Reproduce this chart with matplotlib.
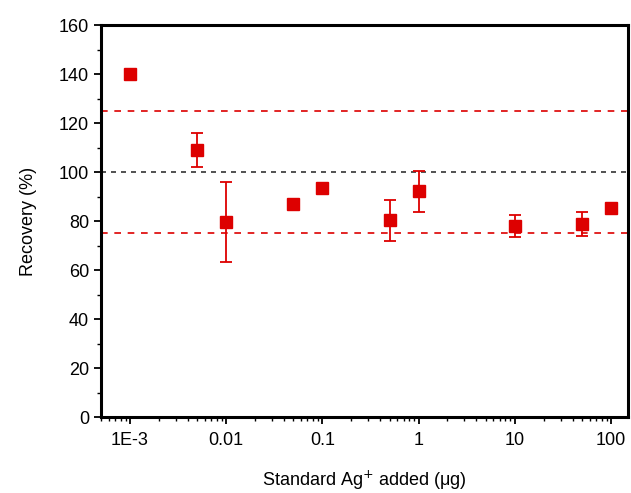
import matplotlib
matplotlib.use("Agg")
import matplotlib.pyplot as plt
from matplotlib.ticker import FixedLocator, LogLocator, NullFormatter, MultipleLocator

plt.rcParams['font.family'] = ['Liberation Sans', 'DejaVu Sans']

# data
added = [0.001, 0.005, 0.01, 0.05, 0.1, 0.5, 1, 10, 50, 100]
recovery = [140, 109.1, 79.6, 87.1, 93.6, 80.3, 92.1, 78.0, 78.9, 85.5]
err = [0, 7.0, 16.2, 1.5, 0, 8.5, 8.5, 4.4, 4.9, 0]
xticks = [0.001, 0.01, 0.1, 1, 10, 100]
xticklabels = ["1E-3", "0.01", "0.1", "1", "10", "100"]
lower, target, upper = 75, 100, 125

red = "#dd0000"

fig = plt.figure(figsize=(6.31, 4.93), dpi=100)
ax = fig.add_axes([0.160, 0.154, 0.835, 0.795])

ax.axhline(upper, color=red, ls=(0, (4, 4)), lw=1.2)
ax.axhline(lower, color=red, ls=(0, (4, 4)), lw=1.2)
ax.axhline(target, color="#333333", ls=(0, (3, 3)), lw=1.2)

ax.errorbar(added, recovery, yerr=err, fmt="s", color=red, ms=9, ecolor=red,
            elinewidth=1.3, capsize=4, capthick=1.3, zorder=3)

ax.set_xscale("log")
ax.set_xlim(5e-4, 150)
ax.set_ylim(0, 160)
ax.xaxis.set_major_locator(FixedLocator(xticks))
ax.set_xticklabels(xticklabels)
ax.xaxis.set_minor_locator(LogLocator(base=10, subs=range(2, 10), numticks=20))
ax.xaxis.set_minor_formatter(NullFormatter())
ax.yaxis.set_major_locator(MultipleLocator(20))
ax.yaxis.set_minor_locator(MultipleLocator(10))

for s in ax.spines.values():
    s.set_linewidth(2.2)
ax.tick_params(which="major", direction="out", length=5, width=1.3, labelsize=13)
ax.tick_params(which="minor", direction="out", length=3, width=1.0)
ax.tick_params(axis="x", pad=6)

ax.set_xlabel("Standard Ag$^{\\plus}$ added (\u03bcg)", fontsize=13, labelpad=14)
ax.set_ylabel("Recovery (%)", fontsize=13, labelpad=16)

fig.savefig("out.png", dpi=100)
